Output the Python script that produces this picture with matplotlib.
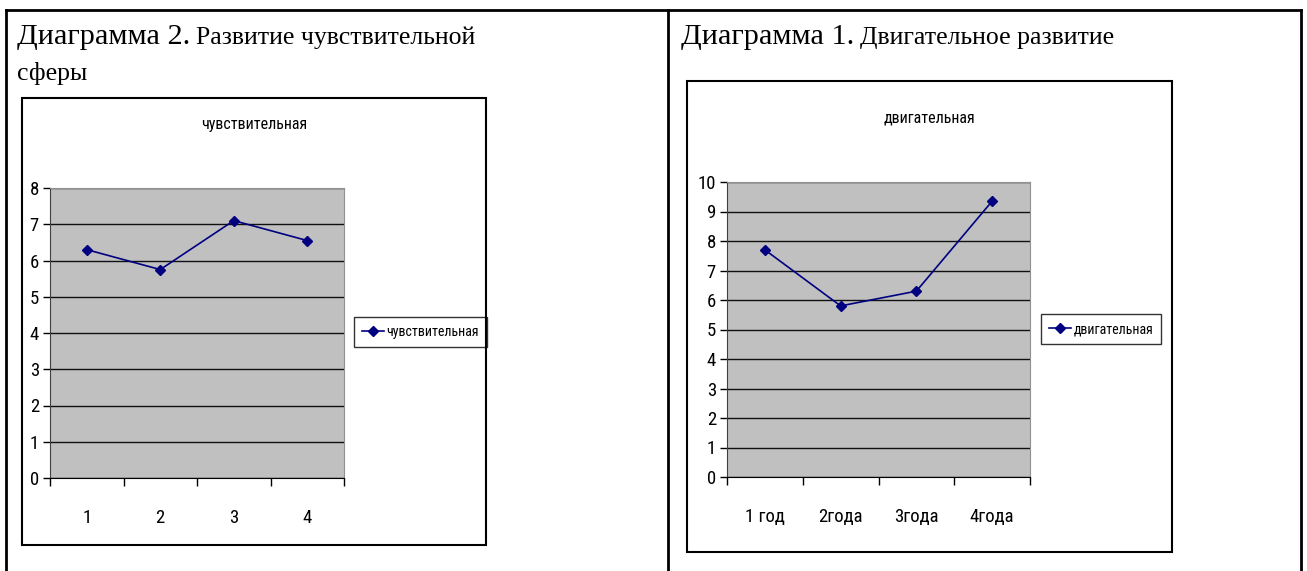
import matplotlib.pyplot as plt
from matplotlib.patches import Rectangle
from matplotlib.lines import Line2D
from matplotlib.transforms import offset_copy

# data
sens_labels = ['1', '2', '3', '4']
sens_values = [6.3, 5.75, 7.1, 6.55]
sens_name = 'чувствительная'

motor_labels = ['1 год', '2года', '3года', '4года']
motor_values = [7.7, 5.8, 6.3, 9.35]
motor_name = 'двигательная'

W, H = 1307, 571

narrow = ['Roboto Condensed', 'Liberation Sans', 'DejaVu Sans']
serif = ['Liberation Serif', 'DejaVu Serif']

fig = plt.figure(figsize=(W / 100, H / 100), dpi=100)


def fx(x):
    return x / W


def fy(y):
    return 1 - y / H


def rect(x0, y0, x1, y1, lw=1.5):
    fig.add_artist(Rectangle((fx(x0), fy(y1)), fx(x1) - fx(x0), fy(y0) - fy(y1),
                             transform=fig.transFigure, fill=False,
                             edgecolor='black', linewidth=lw))


def line(x0, y0, x1, y1, lw=2):
    fig.add_artist(Line2D([fx(x0), fx(x1)], [fy(y0), fy(y1)],
                          transform=fig.transFigure, color='black', linewidth=lw))


# table borders
line(6, 10, 1301, 10)
line(6, 10, 6, 571)
line(668, 10, 668, 571)
line(1301, 10, 1301, 571)


def heading(x, y, big, small):
    t = fig.text(fx(x), fy(y), big, family=serif, fontsize=21.8, va='baseline')
    r = fig.canvas.get_renderer()
    w = t.get_window_extent(r).width
    fig.text(fx(x), fy(y), small, family=serif, fontsize=18.5, va='baseline',
             transform=offset_copy(fig.transFigure, fig=fig, x=w + 6, units='dots'))


heading(17, 44, 'Диаграмма 2.', 'Развитие чувствительной')
fig.text(fx(17), fy(80), 'сферы', family=serif, fontsize=18.5, va='baseline')
heading(681, 44, 'Диаграмма 1.', 'Двигательное развитие')


def chart(box, area, title, title_xy, labels, values, ymax, legend_box, name):
    rect(*box)
    x0, y0, x1, y1 = area
    ax = fig.add_axes([fx(x0), fy(y1), fx(x1) - fx(x0), fy(y0) - fy(y1)])
    ax.set_facecolor('#c0c0c0')
    xs = list(range(len(values)))
    ax.plot(xs, values, color='#000080', linewidth=1.2, marker='D', markersize=5.5,
            label=name)
    ax.set_xlim(-0.5, len(values) - 0.5)
    ax.set_ylim(0, ymax)
    ax.set_yticks(range(ymax + 1))
    ax.set_yticklabels([str(v) for v in range(ymax + 1)], family=narrow, fontsize=13.5)
    ax.set_xticks([i - 0.5 for i in range(len(values) + 1)])
    ax.set_xticklabels([])
    ax.set_xticks(xs, minor=True)
    ax.set_xticklabels(labels, minor=True, family=narrow, fontsize=13.5)
    ax.tick_params(axis='x', which='major', direction='out', length=6, width=1)
    ax.tick_params(axis='x', which='minor', length=0, pad=22)
    ax.tick_params(axis='y', direction='out', length=5, width=1, pad=3)
    ax.grid(axis='y', color='#101010', linewidth=1)
    ax.set_axisbelow(True)
    ax.spines['left'].set_color('#404040')
    ax.spines['bottom'].set_color('black')
    ax.spines['top'].set_color('#909090')
    ax.spines['right'].set_color('#909090')
    fig.text(fx(title_xy[0]), fy(title_xy[1]), title, family=narrow, fontsize=11.5,
             ha='center', va='center')
    lx0, ly0, lx1, ly1 = legend_box
    leg = ax.legend(loc='center left', bbox_to_anchor=(fx(lx0), fy((ly0 + ly1) / 2)),
                    bbox_transform=fig.transFigure, prop={'family': narrow, 'size': 10},
                    frameon=True, fancybox=False, edgecolor='black', handlelength=1.6,
                    handletextpad=0.2, borderpad=0.55, borderaxespad=0, markerscale=0.9)
    leg.get_frame().set_linewidth(1)
    return ax


chart((22, 98, 486, 545), (50, 188, 344, 478), sens_name, (254, 125),
      sens_labels, sens_values, 8, (354, 315, 482, 349), sens_name)
chart((687, 81, 1172, 552), (727, 182, 1030, 477), motor_name, (929, 118),
      motor_labels, motor_values, 10, (1041, 311, 1163, 347), motor_name)

fig.savefig('out.png', dpi=100)
